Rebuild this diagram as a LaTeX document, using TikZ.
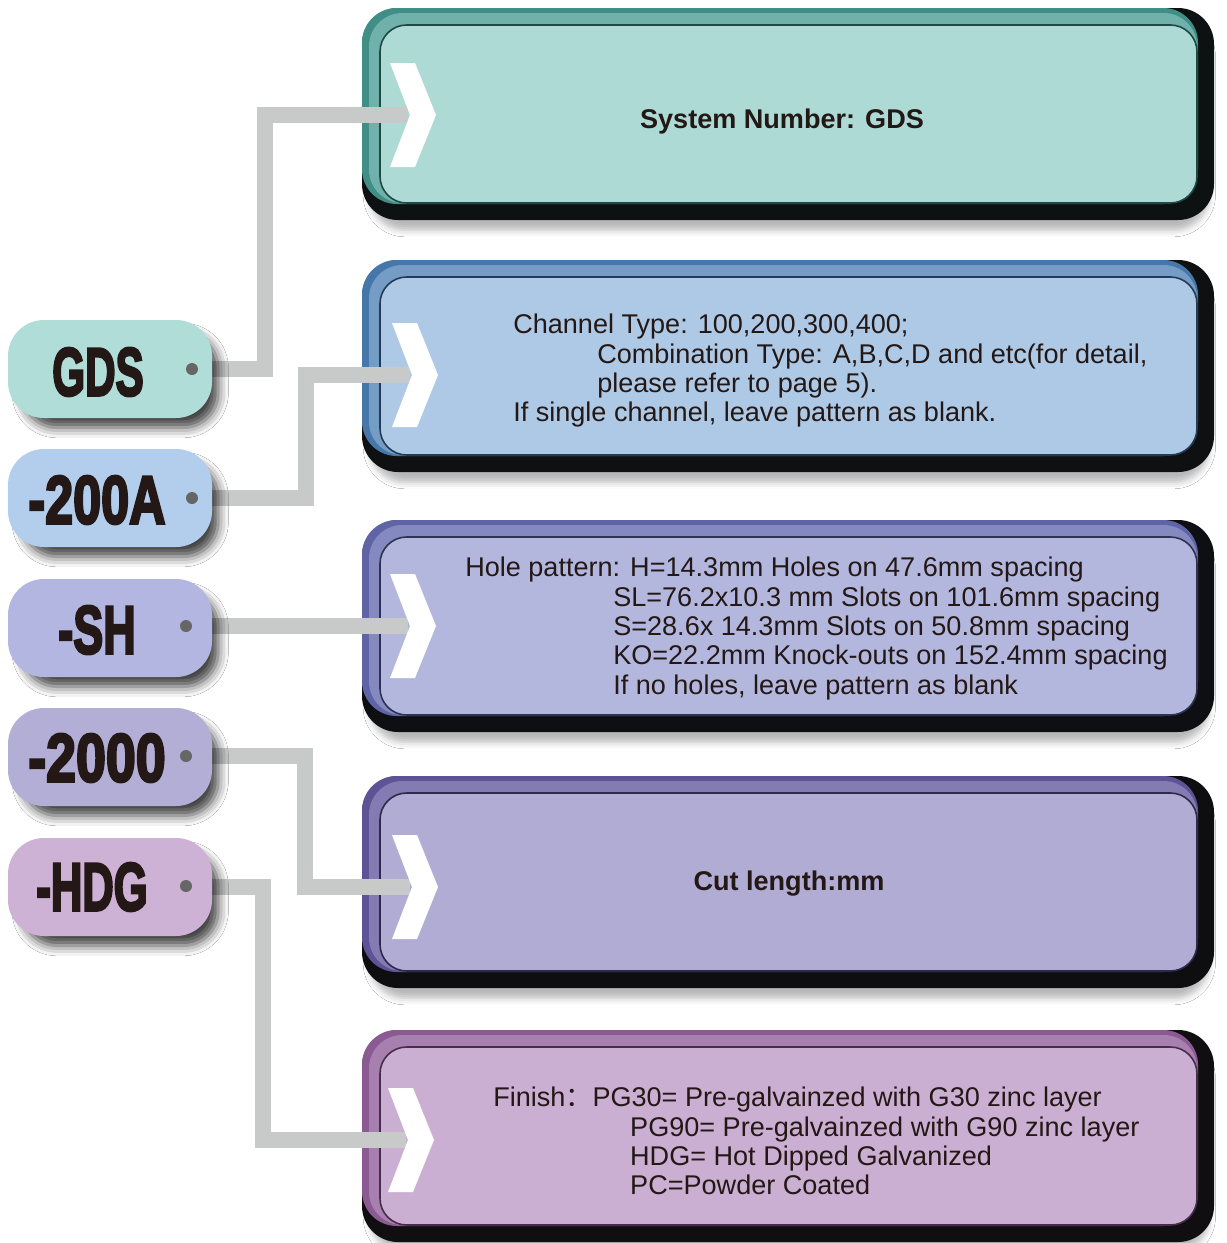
\documentclass[tikz,border=0pt]{standalone}
\usepackage{fontspec}
\setmainfont{Liberation Sans}
\newfontfamily\cjk{Noto Sans CJK SC}
\newfontfamily\tagfont{Liberation Sans Bold}[FakeBold=4]
\usetikzlibrary{shadows.blur}
\definecolor{ink}{HTML}{231815}
\definecolor{conncol}{HTML}{C8C9C9}
\definecolor{dotcol}{HTML}{666666}
\definecolor{bA}{HTML}{AEDAD6}
\definecolor{bB}{HTML}{AEC9E6}
\definecolor{bC}{HTML}{B3B7DE}
\definecolor{bD}{HTML}{B1ACD3}
\definecolor{bE}{HTML}{CBAFD2}
\definecolor{rA}{HTML}{3F8F87}
\definecolor{rB}{HTML}{4677AA}
\definecolor{rC}{HTML}{5E64A6}
\definecolor{rD}{HTML}{5E5396}
\definecolor{rE}{HTML}{8C5A92}
\definecolor{tA}{HTML}{B1DDD8}
\definecolor{tB}{HTML}{B3CEEC}
\definecolor{tC}{HTML}{B3B6E0}
\definecolor{tD}{HTML}{B3AED6}
\definecolor{tE}{HTML}{CEB2D6}
\newcommand\panelbox[3]{%
  \fill[rounded corners=27pt, #2!8!black,
        blur shadow={shadow xshift=1pt, shadow yshift=-9pt, shadow blur radius=5pt, shadow opacity=28, shadow scale=0.985}]
        (362,#1) rectangle (1214,#1+212);
  \fill[rounded corners=26pt, #3] (362,#1) rectangle (1198,#1+196);
  \fill[rounded corners=25pt, #3!55!#2] (369,#1+5) rectangle (1197,#1+195);
  \fill[rounded corners=20pt, #2, draw=#3!50!black, line width=1.2pt] (380,#1+17) rectangle (1197,#1+195);
}
\newcommand\chev[2]{%
  \fill[white] (#1-20,#2-52) -- (#1+5,#2-52) -- (#1+26,#2) -- (#1+5,#2+52) -- (#1-20,#2+52) -- (#1,#2) -- cycle;
}
\tikzset{
  conn/.style={draw=conncol, line width=12pt, line join=miter},
  tag/.style={rounded corners=27pt, minimum width=153pt, minimum height=73.5pt, inner sep=0pt,
              blur shadow={shadow xshift=8pt, shadow yshift=-9pt, shadow blur radius=8pt, shadow opacity=75, shadow scale=0.96}},
  tagtext/.style={text=ink, inner sep=0pt, font=\fontsize{51pt}{51pt}\tagfont},
  body/.style={text=ink, inner sep=0pt, align=left, anchor=north west, font=\fontsize{20.3pt}{22pt}\selectfont},
  title/.style={text=ink, inner sep=0pt, font=\fontsize{20.3pt}{22pt}\selectfont\bfseries},
  dot/.style={fill=dotcol}
}
\begin{document}
\begin{tikzpicture}[x=0.75pt, y=-0.75pt]
\useasboundingbox (0,0) rectangle (1227,1243);
\fill[white] (0,0) rectangle (1227,1243);
% panels
\panelbox{8}{bA}{rA}
\panelbox{260}{bB}{rB}
\panelbox{520}{bC}{rC}
\panelbox{776}{bD}{rD}
\panelbox{1030}{bE}{rE}
% entry points
\coordinate (in1) at (408,115);
\coordinate (in2) at (410,375);
\coordinate (in3) at (408,626);
\coordinate (in4) at (410,887);
\coordinate (in5) at (406,1140);
% connectors
\coordinate (t1e) at (205,369);
\coordinate (t2e) at (205,498);
\coordinate (t3e) at (205,626);
\coordinate (t4e) at (205,756);
\coordinate (t5e) at (205,887);
\draw[conn] (t1e) -| (265,115) -- (in1);
\draw[conn] (t2e) -| (306,375) -- (in2);
\draw[conn] (t3e) -- (in3);
\draw[conn] (t4e) -| (305,887) -- (in4);
\draw[conn] (t5e) -| (263,1140) -- (in5);
% chevrons
\chev{410}{115}
\chev{412}{375}
\chev{410}{626}
\chev{412}{887}
\chev{408}{1140}
% texts in panels
\node[title] (p1) at (782,121) {System Number: GDS};
\node[body] (p2) at (513,314) {Channel Type: 100,200,300,400;\\
\hspace*{63pt}Combination Type: A,B,C,D and etc(for detail,\\
\hspace*{63pt}please refer to page 5).\\
If single channel, leave pattern as blank.};
\node[body] (p3) at (465,557) {Hole pattern: H=14.3mm Holes on 47.6mm spacing\\
\hspace*{111pt}SL=76.2x10.3 mm Slots on 101.6mm spacing\\
\hspace*{111pt}S=28.6x 14.3mm Slots on 50.8mm spacing\\
\hspace*{111pt}KO=22.2mm Knock-outs on 152.4mm spacing\\
\hspace*{111pt}If no holes, leave pattern as blank};
\node[title] (p4) at (789,884) {Cut length:mm};
\node[body] (p5) at (493,1087) {Finish{\cjk ：}PG30= Pre-galvainzed with G30 zinc layer\\
\hspace*{102.7pt}PG90= Pre-galvainzed with G90 zinc layer\\
\hspace*{102.7pt}HDG= Hot Dipped Galvanized\\
\hspace*{102.7pt}PC=Powder Coated};
% tags
\node[tag, fill=tA] (t1) at (110,369) {};
\node[tag, fill=tB] (t2) at (110,498) {};
\node[tag, fill=tC] (t3) at (110,628) {};
\node[tag, fill=tD] (t4) at (110,757) {};
\node[tag, fill=tE] (t5) at (110,887) {};
\node[tagtext] (l1) at (98,372) {\scalebox{0.62}[1]{GDS}};
\node[tagtext] (l2) at (97,500) {\scalebox{0.74}[1]{-200A}};
\node[tagtext] (l3) at (97,630) {\scalebox{0.66}[1]{-SH}};
\node[tagtext] (l4) at (97,758) {\scalebox{0.79}[1]{-2000}};
\node[tagtext] (l5) at (92,887) {\scalebox{0.64}[1]{-HDG}};
\fill[dot] (192,369) circle[radius=6];
\fill[dot] (192,498) circle[radius=6];
\fill[dot] (186,626) circle[radius=6];
\fill[dot] (186,756) circle[radius=6];
\fill[dot] (186,886) circle[radius=6];
\end{tikzpicture}
\end{document}
